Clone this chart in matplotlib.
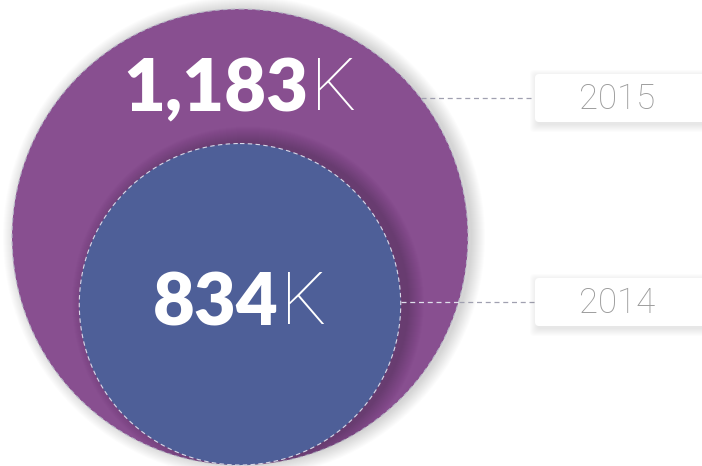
import matplotlib
matplotlib.use("Agg")
import matplotlib.pyplot as plt
from matplotlib.patches import Circle, FancyBboxPatch

# data
years = ["2015", "2014"]
values = [1183, 834]  # thousands
value_labels = ["1,183", "834"]
unit = "K"

PURPLE, BLUE = "#884F90", "#4E5F98"
GREY_TXT = "#9A9A9A"

W, H = 702, 466
fig = plt.figure(figsize=(W / 100, H / 100), dpi=100)
ax = fig.add_axes([0, 0, 1, 1])
ax.set_xlim(0, W)
ax.set_ylim(H, 0)
ax.set_aspect("equal")
ax.axis("off")

# circle sizes: radius proportional to value, all sitting on one baseline
R_MAX = 228
CX, BASE = 240, 465
radii = [R_MAX * v / max(values) for v in values]
centers = [(CX, BASE - r) for r in radii]

# soft halo around the big circle (a bit stronger to the right)
(bx, by), br = centers[0], radii[0]
for i in range(14):
    ax.add_patch(Circle((bx + 4, by), br + 13 - i, color="black", alpha=0.011, lw=0, zorder=1))
big = Circle((bx, by), br, facecolor=PURPLE, edgecolor="#B8B8C8", lw=0.8, ls=(0, (4, 3)), zorder=2)
ax.add_patch(big)

# shadow of the small circle on the big one
(sx, sy), sr = centers[1], radii[1]
for i in range(16):
    sh = Circle((sx + 8, sy - 2), sr + 15 - i, color="#3A1F45", alpha=0.022, lw=0, zorder=3)
    sh.set_clip_path(big)
    ax.add_patch(sh)
ax.add_patch(Circle((sx, sy), sr, facecolor=BLUE, edgecolor="#D8D8E8", lw=0.8, ls=(0, (4, 3)), zorder=4))

# value labels: bold number + thin unit, centred on the circle
text_y = [90, sy]
fig.canvas.draw()
rend = fig.canvas.get_renderer()
for lab, ty in zip(value_labels, text_y):
    t1 = ax.text(0, ty, lab, color="white", fontsize=52, family="Lato", weight="heavy",
                 ha="left", va="center", zorder=6)
    t2 = ax.text(0, ty, unit, color="white", fontsize=52, family="Roboto", weight="light",
                 ha="left", va="center", zorder=6)
    w1 = t1.get_window_extent(rend).width
    w2 = t2.get_window_extent(rend).width
    x0 = CX - (w1 + w2 + 2) / 2
    t1.set_x(x0)
    t2.set_x(x0 + w1 + 2)

# leader lines and year boxes
label_y = [98, 302]
BOX_X = 535
for k, (yr, ly) in enumerate(zip(years, label_y)):
    cx, cy = centers[k]
    r = radii[k]
    x_edge = cx + (r ** 2 - (ly - cy) ** 2) ** 0.5
    x_big = bx + (br ** 2 - (ly - by) ** 2) ** 0.5
    if k > 0:
        ax.plot([x_edge, x_big], [ly, ly], color="#E0E0EC", lw=0.9, ls=(0, (4, 3)), zorder=5)
        x_edge = x_big
    ax.plot([x_edge, BOX_X], [ly, ly], color="#A0A0B0", lw=0.9, ls=(0, (4, 3)), zorder=5)
    # box with soft shadow
    for i in range(8):
        ax.add_patch(FancyBboxPatch((BOX_X - i + 2, ly - 24 - i + 3), 180 + 2 * i, 48 + 2 * i,
                                    boxstyle="round,pad=0,rounding_size=4",
                                    color="black", alpha=0.012, lw=0, zorder=5))
    ax.add_patch(FancyBboxPatch((BOX_X, ly - 24), 180, 48,
                                boxstyle="round,pad=0,rounding_size=4",
                                facecolor="white", edgecolor="none", zorder=6))
    ax.text(617, ly + 1, yr, color=GREY_TXT, fontsize=25, family="Roboto", weight="light",
            ha="center", va="center", zorder=7)

fig.savefig("out.png", dpi=100, facecolor="white")
